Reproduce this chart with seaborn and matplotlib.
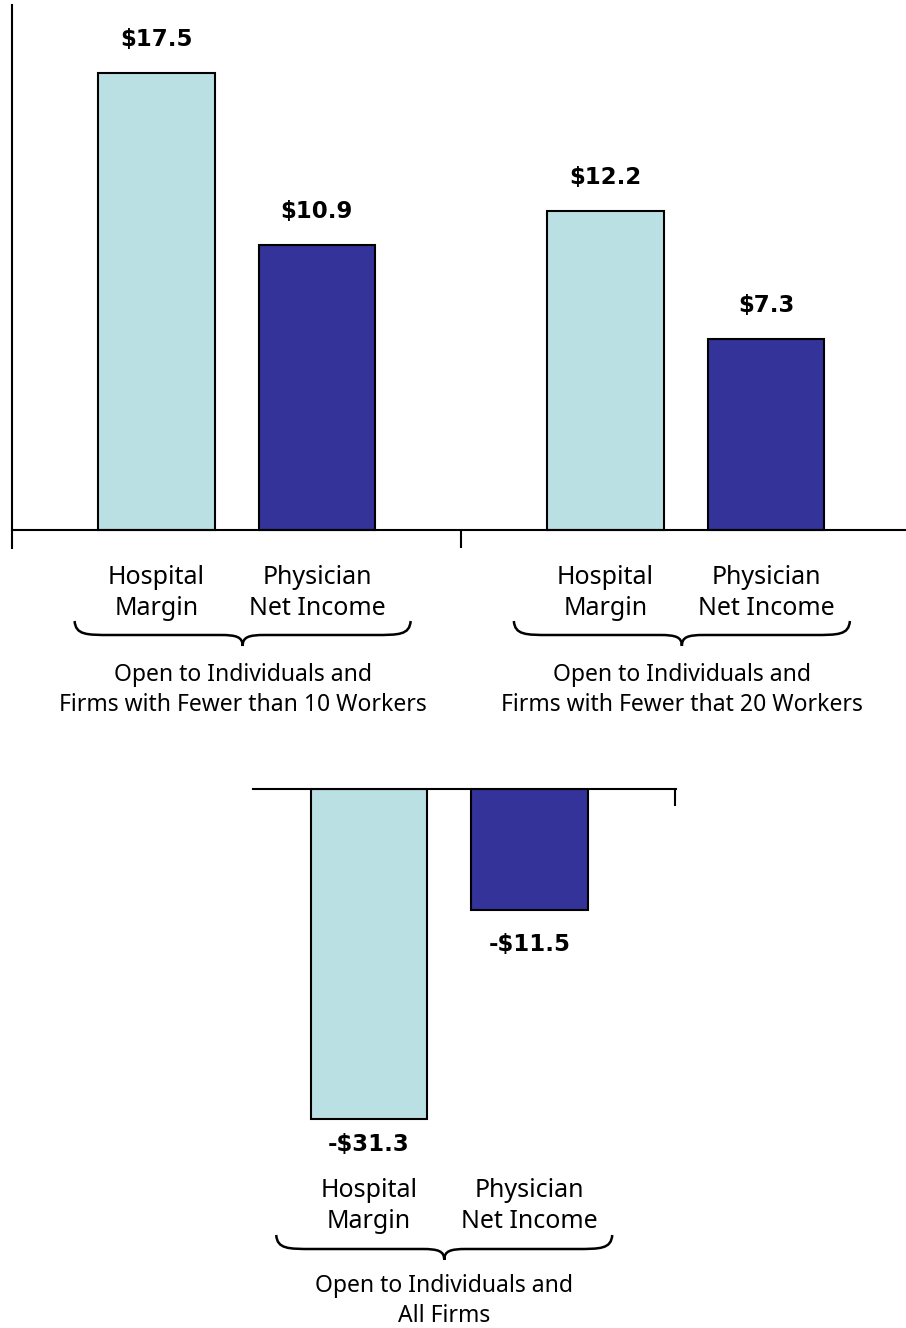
import matplotlib
matplotlib.use("Agg")
import matplotlib.pyplot as plt
from matplotlib.path import Path
from matplotlib.patches import PathPatch
import numpy as np
import pandas as pd
import seaborn as sns

# ---- data -------------------------------------------------------------
groups = [
    "Open to Individuals and\nFirms with Fewer than 10 Workers",
    "Open to Individuals and\nFirms with Fewer that 20 Workers",
    "Open to Individuals and\nAll Firms",
]
measures = ["Hospital\nMargin", "Physician\nNet Income"]
hospital_margin = [17.5, 12.2, -31.3]
physician_income = [10.9, 7.3, -11.5]
value_labels_hosp = ["$17.5", "$12.2", "-$31.3"]
value_labels_phys = ["$10.9", "$7.3", "-$11.5"]

colors = ["#BBE0E3", "#333399"]

rows = []
for g, h, p in zip(groups, hospital_margin, physician_income):
    rows.append({"group": g, "measure": measures[0], "value": h})
    rows.append({"group": g, "measure": measures[1], "value": p})
df = pd.DataFrame(rows)

sns.set_theme(style="white")
plt.rcParams["font.family"] = ["Noto Sans", "DejaVu Sans"]

W, H = 906, 1328
fig = plt.figure(figsize=(W / 100, H / 100), dpi=100)


def fx(x):
    return x / W


def fy(y):
    return 1 - y / H


LW = 1.5
BAR_W = 0.715
GAP = 0.275
VAL_FONT = dict(fontsize=16.5, fontweight="bold", color="black",
                family="DejaVu Sans")

# ---- top panel: two positive groups ----------------------------------
top_left, top_right, top_top, top_bot = 12, 906, 5, 548
ax1 = fig.add_axes([fx(top_left), fy(top_bot), fx(top_right - top_left),
                    (top_bot - top_top) / H])
top_df = df[df["group"].isin(groups[:2])]
sns.barplot(data=top_df, x="group", y="value", hue="measure",
            order=groups[:2], hue_order=measures, palette=colors,
            width=BAR_W, gap=GAP, edgecolor="black", linewidth=LW,
            saturation=1, legend=False, ax=ax1, errorbar=None)
ax1.set_xlim(-0.5, 1.49)
ax1.set_ylim(-0.689, 20.1)
for s in ["top", "right"]:
    ax1.spines[s].set_visible(False)
ax1.spines["left"].set_linewidth(LW)
ax1.spines["left"].set_color("black")
ax1.spines["bottom"].set_position(("data", 0))
ax1.spines["bottom"].set_linewidth(LW)
ax1.spines["bottom"].set_color("black")
ax1.set_xticks([0.5])
ax1.set_xticklabels([""])
ax1.set_yticks([])
ax1.tick_params(axis="x", direction="out", length=13, width=LW,
                color="black", bottom=True)
ax1.set_xlabel("")
ax1.set_ylabel("")
for cont, labs in zip(ax1.containers, [value_labels_hosp[:2], value_labels_phys[:2]]):
    ax1.bar_label(cont, labels=labs, padding=16, **VAL_FONT)

# ---- bottom panel: negative group ------------------------------------
bot_left, bot_right, bot_top, bot_bot = 253, 676, 789, 1130
ax2 = fig.add_axes([fx(bot_left), fy(bot_bot), fx(bot_right - bot_left),
                    (bot_bot - bot_top) / H])
bot_df = df[df["group"] == groups[2]]
sns.barplot(data=bot_df, x="group", y="value", hue="measure",
            order=groups[2:], hue_order=measures, palette=colors,
            width=BAR_W, gap=GAP, edgecolor="black", linewidth=LW,
            saturation=1, legend=False, ax=ax2, errorbar=None)
ax2.set_xlim(-0.437, 0.505)
ax2.set_ylim(-32.3, 0)
for s in ["bottom", "left", "right"]:
    ax2.spines[s].set_visible(False)
ax2.spines["top"].set_linewidth(LW)
ax2.spines["top"].set_color("black")
ax2.xaxis.tick_top()
ax2.set_xticks([0.503])
ax2.set_xticklabels([""])
ax2.set_yticks([])
ax2.tick_params(axis="x", direction="in", length=12, width=LW,
                color="black", top=True, bottom=False)
ax2.set_xlabel("")
ax2.set_ylabel("")
for cont, lab, pad in zip(ax2.containers,
                          [[value_labels_hosp[2]], [value_labels_phys[2]]],
                          [10, 16]):
    ax2.bar_label(cont, labels=lab, padding=pad, **VAL_FONT)


# ---- category labels, braces and group captions ----------------------
def draw_brace(x0, x1, ytop, ymid, ytip):
    xm = (x0 + x1) / 2
    pts = [
        (x0, ytop), (x0 + 1, ymid), (x0 + 12, ymid), (x0 + 36, ymid),
        (xm - 22, ymid),
        (xm - 6, ymid), (xm, ymid + 2), (xm, ytip),
        (xm, ymid + 2), (xm + 6, ymid), (xm + 22, ymid),
        (x1 - 36, ymid),
        (x1 - 12, ymid), (x1 - 1, ymid), (x1, ytop),
    ]
    codes = [Path.MOVETO, Path.CURVE4, Path.CURVE4, Path.CURVE4,
             Path.LINETO,
             Path.CURVE4, Path.CURVE4, Path.CURVE4,
             Path.CURVE4, Path.CURVE4, Path.CURVE4,
             Path.LINETO,
             Path.CURVE4, Path.CURVE4, Path.CURVE4]
    verts = [(fx(x), fy(y)) for x, y in pts]
    patch = PathPatch(Path(verts, codes), transform=fig.transFigure,
                      facecolor="none", edgecolor="black", linewidth=1.8)
    fig.patches.append(patch)


def label_group(ax, group_index, label_y, brace_y, caption_y, group_name,
                shift):
    bars = [c.patches[group_index] for c in ax.containers]
    centers = []
    for bar, m in zip(bars, measures):
        cx_data = bar.get_x() + bar.get_width() / 2
        cx = ax.transData.transform((cx_data, 0))[0]
        centers.append(cx)
        fig.text(cx / W, fy(label_y), m, ha="center", va="center",
                 fontsize=18, linespacing=1.28, color="black")
    gx = (centers[0] + centers[1]) / 2 + shift
    draw_brace(gx - 168, gx + 168, brace_y, brace_y + 14, brace_y + 25)
    fig.text(gx / W, fy(caption_y), group_name, ha="center", va="center",
             fontsize=16.5, linespacing=1.28, color="black")


fig.canvas.draw()
label_group(ax1, 0, 593, 621, 690, groups[0], 6)
label_group(ax1, 1, 593, 621, 690, groups[1], -4)
label_group(ax2, 0, 1206, 1235, 1301, groups[2], -5)

fig.savefig("out.png", dpi=100, facecolor="white")
